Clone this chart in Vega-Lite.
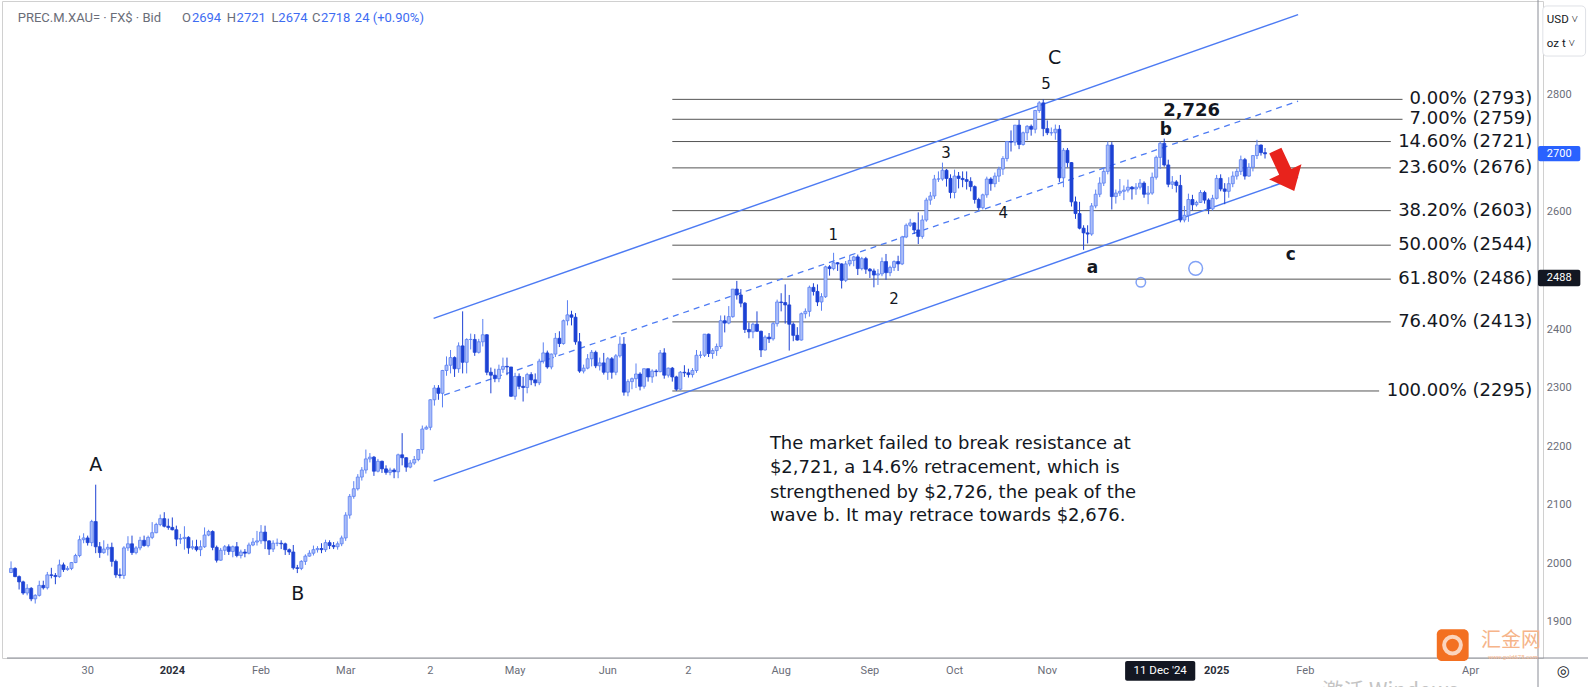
{
"$schema": "https://vega.github.io/schema/vega-lite/v6.json",
"width": 1541, "height": 657,
"autosize": {"type": "none"},
"padding": {"left": 2, "top": 1, "right": 45, "bottom": 29},
"background": "white",
"config": {"view": {"stroke": "#d0d0d0"}},
"datasets": {
"candles": [
{"d":"2023-11-03","i":-1,"o":1985,"h":2004,"l":1984,"c":1992},
{"d":"2023-11-06","i":0,"o":1992,"h":1994,"l":1977,"c":1978},
{"d":"2023-11-07","i":1,"o":1978,"h":1980,"l":1956,"c":1969},
{"d":"2023-11-08","i":2,"o":1969,"h":1971,"l":1947,"c":1950},
{"d":"2023-11-09","i":3,"o":1950,"h":1965,"l":1946,"c":1958},
{"d":"2023-11-10","i":4,"o":1958,"h":1960,"l":1936,"c":1940},
{"d":"2023-11-13","i":5,"o":1940,"h":1948,"l":1932,"c":1946},
{"d":"2023-11-14","i":6,"o":1946,"h":1971,"l":1944,"c":1963},
{"d":"2023-11-15","i":7,"o":1963,"h":1971,"l":1956,"c":1959},
{"d":"2023-11-16","i":8,"o":1959,"h":1986,"l":1956,"c":1981},
{"d":"2023-11-17","i":9,"o":1981,"h":1993,"l":1975,"c":1980},
{"d":"2023-11-20","i":10,"o":1980,"h":1984,"l":1965,"c":1978},
{"d":"2023-11-21","i":11,"o":1978,"h":2007,"l":1976,"c":1998},
{"d":"2023-11-22","i":12,"o":1998,"h":2002,"l":1986,"c":1990},
{"d":"2023-11-23","i":13,"o":1990,"h":1996,"l":1988,"c":1992},
{"d":"2023-11-24","i":14,"o":1992,"h":2003,"l":1989,"c":2002},
{"d":"2023-11-27","i":15,"o":2002,"h":2017,"l":2001,"c":2014},
{"d":"2023-11-28","i":16,"o":2014,"h":2048,"l":2011,"c":2041},
{"d":"2023-11-29","i":17,"o":2041,"h":2052,"l":2035,"c":2044},
{"d":"2023-11-30","i":18,"o":2044,"h":2048,"l":2031,"c":2036},
{"d":"2023-12-01","i":19,"o":2036,"h":2075,"l":2030,"c":2072},
{"d":"2023-12-04","i":20,"o":2072,"h":2135,"l":2018,"c":2029},
{"d":"2023-12-05","i":21,"o":2029,"h":2037,"l":2010,"c":2019},
{"d":"2023-12-06","i":22,"o":2019,"h":2040,"l":2017,"c":2025},
{"d":"2023-12-07","i":23,"o":2025,"h":2034,"l":2014,"c":2028},
{"d":"2023-12-08","i":24,"o":2028,"h":2036,"l":1995,"c":2004},
{"d":"2023-12-11","i":25,"o":2004,"h":2007,"l":1976,"c":1981},
{"d":"2023-12-12","i":26,"o":1981,"h":1992,"l":1975,"c":1980},
{"d":"2023-12-13","i":27,"o":1980,"h":2030,"l":1974,"c":2027},
{"d":"2023-12-14","i":28,"o":2027,"h":2047,"l":2022,"c":2034},
{"d":"2023-12-15","i":29,"o":2034,"h":2048,"l":2015,"c":2019},
{"d":"2023-12-18","i":30,"o":2019,"h":2030,"l":2016,"c":2027},
{"d":"2023-12-19","i":31,"o":2027,"h":2046,"l":2023,"c":2040},
{"d":"2023-12-20","i":32,"o":2040,"h":2048,"l":2029,"c":2031},
{"d":"2023-12-21","i":33,"o":2031,"h":2048,"l":2028,"c":2045},
{"d":"2023-12-22","i":34,"o":2045,"h":2071,"l":2042,"c":2053},
{"d":"2023-12-26","i":35,"o":2053,"h":2070,"l":2052,"c":2067},
{"d":"2023-12-27","i":36,"o":2067,"h":2084,"l":2064,"c":2077},
{"d":"2023-12-28","i":37,"o":2077,"h":2088,"l":2062,"c":2064},
{"d":"2023-12-29","i":38,"o":2064,"h":2077,"l":2058,"c":2062},
{"d":"2024-01-02","i":39,"o":2062,"h":2079,"l":2057,"c":2058},
{"d":"2024-01-03","i":40,"o":2058,"h":2065,"l":2030,"c":2042},
{"d":"2024-01-04","i":41,"o":2042,"h":2051,"l":2034,"c":2043},
{"d":"2024-01-05","i":42,"o":2043,"h":2064,"l":2024,"c":2045},
{"d":"2024-01-08","i":43,"o":2045,"h":2047,"l":2017,"c":2027},
{"d":"2024-01-09","i":44,"o":2027,"h":2040,"l":2024,"c":2029},
{"d":"2024-01-10","i":45,"o":2029,"h":2041,"l":2021,"c":2024},
{"d":"2024-01-11","i":46,"o":2024,"h":2040,"l":2013,"c":2029},
{"d":"2024-01-12","i":47,"o":2029,"h":2062,"l":2027,"c":2049},
{"d":"2024-01-15","i":48,"o":2049,"h":2058,"l":2047,"c":2055},
{"d":"2024-01-16","i":49,"o":2055,"h":2057,"l":2023,"c":2028},
{"d":"2024-01-17","i":50,"o":2028,"h":2031,"l":2002,"c":2006},
{"d":"2024-01-18","i":51,"o":2006,"h":2027,"l":2005,"c":2023},
{"d":"2024-01-19","i":52,"o":2023,"h":2032,"l":2015,"c":2029},
{"d":"2024-01-22","i":53,"o":2029,"h":2033,"l":2015,"c":2021},
{"d":"2024-01-23","i":54,"o":2021,"h":2031,"l":2011,"c":2029},
{"d":"2024-01-24","i":55,"o":2029,"h":2037,"l":2011,"c":2014},
{"d":"2024-01-25","i":56,"o":2014,"h":2024,"l":2009,"c":2020},
{"d":"2024-01-26","i":57,"o":2020,"h":2025,"l":2011,"c":2018},
{"d":"2024-01-29","i":58,"o":2018,"h":2036,"l":2016,"c":2032},
{"d":"2024-01-30","i":59,"o":2032,"h":2044,"l":2030,"c":2037},
{"d":"2024-01-31","i":60,"o":2037,"h":2056,"l":2031,"c":2039},
{"d":"2024-02-01","i":61,"o":2039,"h":2066,"l":2034,"c":2054},
{"d":"2024-02-02","i":62,"o":2054,"h":2065,"l":2025,"c":2039},
{"d":"2024-02-05","i":63,"o":2039,"h":2040,"l":2015,"c":2025},
{"d":"2024-02-06","i":64,"o":2025,"h":2040,"l":2020,"c":2035},
{"d":"2024-02-07","i":65,"o":2035,"h":2043,"l":2030,"c":2035},
{"d":"2024-02-08","i":66,"o":2035,"h":2040,"l":2025,"c":2034},
{"d":"2024-02-09","i":67,"o":2034,"h":2036,"l":2015,"c":2024},
{"d":"2024-02-12","i":68,"o":2024,"h":2026,"l":2015,"c":2020},
{"d":"2024-02-13","i":69,"o":2020,"h":2032,"l":1990,"c":1993},
{"d":"2024-02-14","i":70,"o":1993,"h":1998,"l":1984,"c":1992},
{"d":"2024-02-15","i":71,"o":1992,"h":2006,"l":1989,"c":2004},
{"d":"2024-02-16","i":72,"o":2004,"h":2016,"l":1998,"c":2013},
{"d":"2024-02-19","i":73,"o":2013,"h":2023,"l":2012,"c":2018},
{"d":"2024-02-20","i":74,"o":2018,"h":2031,"l":2014,"c":2024},
{"d":"2024-02-21","i":75,"o":2024,"h":2030,"l":2019,"c":2026},
{"d":"2024-02-22","i":76,"o":2026,"h":2035,"l":2018,"c":2024},
{"d":"2024-02-23","i":77,"o":2024,"h":2041,"l":2020,"c":2036},
{"d":"2024-02-26","i":78,"o":2036,"h":2040,"l":2025,"c":2031},
{"d":"2024-02-27","i":79,"o":2031,"h":2037,"l":2025,"c":2029},
{"d":"2024-02-28","i":80,"o":2029,"h":2038,"l":2024,"c":2034},
{"d":"2024-02-29","i":81,"o":2034,"h":2048,"l":2030,"c":2044},
{"d":"2024-03-01","i":82,"o":2044,"h":2088,"l":2039,"c":2083},
{"d":"2024-03-04","i":83,"o":2083,"h":2119,"l":2077,"c":2115},
{"d":"2024-03-05","i":84,"o":2115,"h":2141,"l":2111,"c":2128},
{"d":"2024-03-06","i":85,"o":2128,"h":2153,"l":2125,"c":2148},
{"d":"2024-03-07","i":86,"o":2148,"h":2165,"l":2142,"c":2160},
{"d":"2024-03-08","i":87,"o":2160,"h":2195,"l":2154,"c":2179},
{"d":"2024-03-11","i":88,"o":2179,"h":2189,"l":2173,"c":2182},
{"d":"2024-03-12","i":89,"o":2182,"h":2184,"l":2150,"c":2158},
{"d":"2024-03-13","i":90,"o":2158,"h":2179,"l":2156,"c":2175},
{"d":"2024-03-14","i":91,"o":2175,"h":2176,"l":2155,"c":2162},
{"d":"2024-03-15","i":92,"o":2162,"h":2168,"l":2152,"c":2156},
{"d":"2024-03-18","i":93,"o":2156,"h":2164,"l":2151,"c":2160},
{"d":"2024-03-19","i":94,"o":2160,"h":2163,"l":2146,"c":2157},
{"d":"2024-03-20","i":95,"o":2157,"h":2188,"l":2146,"c":2186},
{"d":"2024-03-21","i":96,"o":2186,"h":2223,"l":2168,"c":2181},
{"d":"2024-03-22","i":97,"o":2181,"h":2182,"l":2157,"c":2165},
{"d":"2024-03-25","i":98,"o":2165,"h":2177,"l":2163,"c":2172},
{"d":"2024-03-26","i":99,"o":2172,"h":2184,"l":2169,"c":2178},
{"d":"2024-03-27","i":100,"o":2178,"h":2196,"l":2175,"c":2195},
{"d":"2024-03-28","i":101,"o":2195,"h":2236,"l":2188,"c":2230},
{"d":"2024-03-29","i":102,"o":2230,"h":2236,"l":2229,"c":2233},
{"d":"2024-04-02","i":103,"o":2233,"h":2281,"l":2228,"c":2280},
{"d":"2024-04-03","i":104,"o":2280,"h":2305,"l":2270,"c":2300},
{"d":"2024-04-04","i":105,"o":2300,"h":2305,"l":2280,"c":2291},
{"d":"2024-04-05","i":106,"o":2291,"h":2331,"l":2267,"c":2330},
{"d":"2024-04-08","i":107,"o":2330,"h":2354,"l":2321,"c":2339},
{"d":"2024-04-09","i":108,"o":2339,"h":2365,"l":2325,"c":2352},
{"d":"2024-04-10","i":109,"o":2352,"h":2354,"l":2319,"c":2333},
{"d":"2024-04-11","i":110,"o":2333,"h":2378,"l":2326,"c":2372},
{"d":"2024-04-12","i":111,"o":2372,"h":2431,"l":2325,"c":2344},
{"d":"2024-04-15","i":112,"o":2344,"h":2385,"l":2325,"c":2383},
{"d":"2024-04-16","i":113,"o":2383,"h":2393,"l":2366,"c":2383},
{"d":"2024-04-17","i":114,"o":2383,"h":2392,"l":2355,"c":2361},
{"d":"2024-04-18","i":115,"o":2361,"h":2384,"l":2359,"c":2379},
{"d":"2024-04-19","i":116,"o":2379,"h":2418,"l":2371,"c":2391},
{"d":"2024-04-22","i":117,"o":2391,"h":2392,"l":2322,"c":2327},
{"d":"2024-04-23","i":118,"o":2327,"h":2335,"l":2291,"c":2322},
{"d":"2024-04-24","i":119,"o":2322,"h":2333,"l":2310,"c":2316},
{"d":"2024-04-25","i":120,"o":2316,"h":2340,"l":2310,"c":2332},
{"d":"2024-04-26","i":121,"o":2332,"h":2352,"l":2326,"c":2337},
{"d":"2024-04-29","i":122,"o":2337,"h":2352,"l":2322,"c":2336},
{"d":"2024-04-30","i":123,"o":2336,"h":2336,"l":2285,"c":2286},
{"d":"2024-05-01","i":124,"o":2286,"h":2326,"l":2280,"c":2320},
{"d":"2024-05-02","i":125,"o":2320,"h":2325,"l":2298,"c":2303},
{"d":"2024-05-03","i":126,"o":2303,"h":2319,"l":2277,"c":2301},
{"d":"2024-05-06","i":127,"o":2301,"h":2326,"l":2291,"c":2323},
{"d":"2024-05-07","i":128,"o":2323,"h":2327,"l":2305,"c":2314},
{"d":"2024-05-08","i":129,"o":2314,"h":2325,"l":2303,"c":2309},
{"d":"2024-05-09","i":130,"o":2309,"h":2350,"l":2305,"c":2346},
{"d":"2024-05-10","i":131,"o":2346,"h":2378,"l":2342,"c":2360},
{"d":"2024-05-13","i":132,"o":2360,"h":2364,"l":2333,"c":2336},
{"d":"2024-05-14","i":133,"o":2336,"h":2359,"l":2332,"c":2358},
{"d":"2024-05-15","i":134,"o":2358,"h":2394,"l":2353,"c":2385},
{"d":"2024-05-16","i":135,"o":2385,"h":2397,"l":2370,"c":2376},
{"d":"2024-05-17","i":136,"o":2376,"h":2417,"l":2374,"c":2415},
{"d":"2024-05-20","i":137,"o":2415,"h":2450,"l":2407,"c":2425},
{"d":"2024-05-21","i":138,"o":2425,"h":2432,"l":2407,"c":2421},
{"d":"2024-05-22","i":139,"o":2421,"h":2428,"l":2374,"c":2379},
{"d":"2024-05-23","i":140,"o":2379,"h":2394,"l":2326,"c":2329},
{"d":"2024-05-24","i":141,"o":2329,"h":2340,"l":2325,"c":2334},
{"d":"2024-05-27","i":142,"o":2334,"h":2358,"l":2332,"c":2350},
{"d":"2024-05-28","i":143,"o":2350,"h":2365,"l":2337,"c":2361},
{"d":"2024-05-29","i":144,"o":2361,"h":2364,"l":2334,"c":2338},
{"d":"2024-05-30","i":145,"o":2338,"h":2352,"l":2330,"c":2343},
{"d":"2024-05-31","i":146,"o":2343,"h":2360,"l":2323,"c":2327},
{"d":"2024-06-03","i":147,"o":2327,"h":2353,"l":2314,"c":2350},
{"d":"2024-06-04","i":148,"o":2350,"h":2353,"l":2316,"c":2327},
{"d":"2024-06-05","i":149,"o":2327,"h":2358,"l":2322,"c":2355},
{"d":"2024-06-06","i":150,"o":2355,"h":2388,"l":2352,"c":2375},
{"d":"2024-06-07","i":151,"o":2375,"h":2387,"l":2287,"c":2293},
{"d":"2024-06-10","i":152,"o":2293,"h":2315,"l":2286,"c":2311},
{"d":"2024-06-11","i":153,"o":2311,"h":2318,"l":2298,"c":2316},
{"d":"2024-06-12","i":154,"o":2316,"h":2342,"l":2300,"c":2324},
{"d":"2024-06-13","i":155,"o":2324,"h":2327,"l":2296,"c":2303},
{"d":"2024-06-14","i":156,"o":2303,"h":2333,"l":2299,"c":2333},
{"d":"2024-06-17","i":157,"o":2333,"h":2333,"l":2311,"c":2319},
{"d":"2024-06-18","i":158,"o":2319,"h":2332,"l":2309,"c":2329},
{"d":"2024-06-19","i":159,"o":2329,"h":2332,"l":2320,"c":2328},
{"d":"2024-06-20","i":160,"o":2328,"h":2365,"l":2327,"c":2360},
{"d":"2024-06-21","i":161,"o":2360,"h":2368,"l":2316,"c":2322},
{"d":"2024-06-24","i":162,"o":2322,"h":2335,"l":2318,"c":2334},
{"d":"2024-06-25","i":163,"o":2334,"h":2336,"l":2311,"c":2319},
{"d":"2024-06-26","i":164,"o":2319,"h":2321,"l":2295,"c":2298},
{"d":"2024-06-27","i":165,"o":2298,"h":2329,"l":2296,"c":2327},
{"d":"2024-06-28","i":166,"o":2327,"h":2339,"l":2319,"c":2326},
{"d":"2024-07-01","i":167,"o":2326,"h":2333,"l":2318,"c":2323},
{"d":"2024-07-02","i":168,"o":2323,"h":2334,"l":2318,"c":2330},
{"d":"2024-07-03","i":169,"o":2330,"h":2365,"l":2326,"c":2356},
{"d":"2024-07-04","i":170,"o":2356,"h":2363,"l":2351,"c":2356},
{"d":"2024-07-05","i":171,"o":2356,"h":2392,"l":2353,"c":2392},
{"d":"2024-07-08","i":172,"o":2392,"h":2393,"l":2353,"c":2359},
{"d":"2024-07-09","i":173,"o":2359,"h":2368,"l":2350,"c":2364},
{"d":"2024-07-10","i":174,"o":2364,"h":2376,"l":2355,"c":2371},
{"d":"2024-07-11","i":175,"o":2371,"h":2424,"l":2367,"c":2415},
{"d":"2024-07-12","i":176,"o":2415,"h":2424,"l":2395,"c":2411},
{"d":"2024-07-15","i":177,"o":2411,"h":2440,"l":2409,"c":2422},
{"d":"2024-07-16","i":178,"o":2422,"h":2469,"l":2420,"c":2469},
{"d":"2024-07-17","i":179,"o":2469,"h":2483,"l":2451,"c":2459},
{"d":"2024-07-18","i":180,"o":2459,"h":2469,"l":2438,"c":2445},
{"d":"2024-07-19","i":181,"o":2445,"h":2447,"l":2394,"c":2400},
{"d":"2024-07-22","i":182,"o":2400,"h":2412,"l":2385,"c":2396},
{"d":"2024-07-23","i":183,"o":2396,"h":2412,"l":2385,"c":2409},
{"d":"2024-07-24","i":184,"o":2409,"h":2431,"l":2396,"c":2397},
{"d":"2024-07-25","i":185,"o":2397,"h":2398,"l":2353,"c":2365},
{"d":"2024-07-26","i":186,"o":2365,"h":2390,"l":2364,"c":2387},
{"d":"2024-07-29","i":187,"o":2387,"h":2394,"l":2377,"c":2384},
{"d":"2024-07-30","i":188,"o":2384,"h":2413,"l":2381,"c":2410},
{"d":"2024-07-31","i":189,"o":2410,"h":2451,"l":2405,"c":2447},
{"d":"2024-08-01","i":190,"o":2447,"h":2462,"l":2431,"c":2446},
{"d":"2024-08-02","i":191,"o":2446,"h":2477,"l":2410,"c":2442},
{"d":"2024-08-05","i":192,"o":2442,"h":2459,"l":2364,"c":2409},
{"d":"2024-08-06","i":193,"o":2409,"h":2412,"l":2380,"c":2390},
{"d":"2024-08-07","i":194,"o":2390,"h":2404,"l":2381,"c":2382},
{"d":"2024-08-08","i":195,"o":2382,"h":2429,"l":2381,"c":2427},
{"d":"2024-08-09","i":196,"o":2427,"h":2436,"l":2419,"c":2431},
{"d":"2024-08-12","i":197,"o":2431,"h":2475,"l":2422,"c":2472},
{"d":"2024-08-13","i":198,"o":2472,"h":2479,"l":2458,"c":2465},
{"d":"2024-08-14","i":199,"o":2465,"h":2477,"l":2440,"c":2447},
{"d":"2024-08-15","i":200,"o":2447,"h":2462,"l":2432,"c":2456},
{"d":"2024-08-16","i":201,"o":2456,"h":2509,"l":2454,"c":2507},
{"d":"2024-08-19","i":202,"o":2507,"h":2510,"l":2492,"c":2504},
{"d":"2024-08-20","i":203,"o":2504,"h":2531,"l":2501,"c":2514},
{"d":"2024-08-21","i":204,"o":2514,"h":2515,"l":2500,"c":2512},
{"d":"2024-08-22","i":205,"o":2512,"h":2513,"l":2470,"c":2484},
{"d":"2024-08-23","i":206,"o":2484,"h":2517,"l":2481,"c":2512},
{"d":"2024-08-26","i":207,"o":2512,"h":2527,"l":2508,"c":2518},
{"d":"2024-08-27","i":208,"o":2518,"h":2526,"l":2508,"c":2524},
{"d":"2024-08-28","i":209,"o":2524,"h":2528,"l":2493,"c":2504},
{"d":"2024-08-29","i":210,"o":2504,"h":2524,"l":2501,"c":2521},
{"d":"2024-08-30","i":211,"o":2521,"h":2524,"l":2495,"c":2503},
{"d":"2024-09-02","i":212,"o":2503,"h":2505,"l":2488,"c":2500},
{"d":"2024-09-03","i":213,"o":2500,"h":2504,"l":2472,"c":2493},
{"d":"2024-09-04","i":214,"o":2493,"h":2503,"l":2476,"c":2495},
{"d":"2024-09-05","i":215,"o":2495,"h":2523,"l":2491,"c":2516},
{"d":"2024-09-06","i":216,"o":2516,"h":2529,"l":2485,"c":2497},
{"d":"2024-09-09","i":217,"o":2497,"h":2509,"l":2491,"c":2506},
{"d":"2024-09-10","i":218,"o":2506,"h":2518,"l":2500,"c":2516},
{"d":"2024-09-11","i":219,"o":2516,"h":2526,"l":2500,"c":2512},
{"d":"2024-09-12","i":220,"o":2512,"h":2560,"l":2510,"c":2558},
{"d":"2024-09-13","i":221,"o":2558,"h":2581,"l":2556,"c":2578},
{"d":"2024-09-16","i":222,"o":2578,"h":2589,"l":2575,"c":2582},
{"d":"2024-09-17","i":223,"o":2582,"h":2583,"l":2563,"c":2570},
{"d":"2024-09-18","i":224,"o":2570,"h":2600,"l":2546,"c":2559},
{"d":"2024-09-19","i":225,"o":2559,"h":2595,"l":2555,"c":2587},
{"d":"2024-09-20","i":226,"o":2587,"h":2625,"l":2584,"c":2621},
{"d":"2024-09-23","i":227,"o":2621,"h":2635,"l":2613,"c":2628},
{"d":"2024-09-24","i":228,"o":2628,"h":2664,"l":2623,"c":2657},
{"d":"2024-09-25","i":229,"o":2657,"h":2670,"l":2652,"c":2657},
{"d":"2024-09-26","i":230,"o":2657,"h":2685,"l":2654,"c":2672},
{"d":"2024-09-27","i":231,"o":2672,"h":2674,"l":2644,"c":2658},
{"d":"2024-09-30","i":232,"o":2658,"h":2665,"l":2624,"c":2634},
{"d":"2024-10-01","i":233,"o":2634,"h":2673,"l":2624,"c":2662},
{"d":"2024-10-02","i":234,"o":2662,"h":2669,"l":2641,"c":2658},
{"d":"2024-10-03","i":235,"o":2658,"h":2670,"l":2643,"c":2656},
{"d":"2024-10-04","i":236,"o":2656,"h":2670,"l":2639,"c":2653},
{"d":"2024-10-07","i":237,"o":2653,"h":2660,"l":2636,"c":2644},
{"d":"2024-10-08","i":238,"o":2644,"h":2646,"l":2615,"c":2622},
{"d":"2024-10-09","i":239,"o":2622,"h":2625,"l":2604,"c":2608},
{"d":"2024-10-10","i":240,"o":2608,"h":2632,"l":2605,"c":2630},
{"d":"2024-10-11","i":241,"o":2630,"h":2661,"l":2625,"c":2657},
{"d":"2024-10-14","i":242,"o":2657,"h":2660,"l":2637,"c":2649},
{"d":"2024-10-15","i":243,"o":2649,"h":2668,"l":2643,"c":2662},
{"d":"2024-10-16","i":244,"o":2662,"h":2678,"l":2652,"c":2674},
{"d":"2024-10-17","i":245,"o":2674,"h":2696,"l":2664,"c":2692},
{"d":"2024-10-18","i":246,"o":2692,"h":2722,"l":2687,"c":2721},
{"d":"2024-10-21","i":247,"o":2721,"h":2740,"l":2704,"c":2720},
{"d":"2024-10-22","i":248,"o":2720,"h":2749,"l":2714,"c":2749},
{"d":"2024-10-23","i":249,"o":2749,"h":2758,"l":2708,"c":2716},
{"d":"2024-10-24","i":250,"o":2716,"h":2738,"l":2714,"c":2736},
{"d":"2024-10-25","i":251,"o":2736,"h":2749,"l":2723,"c":2747},
{"d":"2024-10-28","i":252,"o":2747,"h":2750,"l":2731,"c":2742},
{"d":"2024-10-29","i":253,"o":2742,"h":2775,"l":2735,"c":2774},
{"d":"2024-10-30","i":254,"o":2774,"h":2790,"l":2770,"c":2787},
{"d":"2024-10-31","i":255,"o":2787,"h":2793,"l":2730,"c":2743},
{"d":"2024-11-01","i":256,"o":2743,"h":2757,"l":2732,"c":2736},
{"d":"2024-11-04","i":257,"o":2736,"h":2745,"l":2731,"c":2736},
{"d":"2024-11-05","i":258,"o":2736,"h":2750,"l":2724,"c":2742},
{"d":"2024-11-06","i":259,"o":2742,"h":2749,"l":2652,"c":2659},
{"d":"2024-11-07","i":260,"o":2659,"h":2710,"l":2643,"c":2706},
{"d":"2024-11-08","i":261,"o":2706,"h":2710,"l":2677,"c":2685},
{"d":"2024-11-11","i":262,"o":2685,"h":2686,"l":2610,"c":2618},
{"d":"2024-11-12","i":263,"o":2618,"h":2627,"l":2589,"c":2598},
{"d":"2024-11-13","i":264,"o":2598,"h":2618,"l":2571,"c":2573},
{"d":"2024-11-14","i":265,"o":2573,"h":2578,"l":2536,"c":2565},
{"d":"2024-11-15","i":266,"o":2565,"h":2578,"l":2547,"c":2563},
{"d":"2024-11-18","i":267,"o":2563,"h":2616,"l":2560,"c":2611},
{"d":"2024-11-19","i":268,"o":2611,"h":2639,"l":2607,"c":2631},
{"d":"2024-11-20","i":269,"o":2631,"h":2660,"l":2626,"c":2650},
{"d":"2024-11-21","i":270,"o":2650,"h":2674,"l":2645,"c":2670},
{"d":"2024-11-22","i":271,"o":2670,"h":2721,"l":2665,"c":2715},
{"d":"2024-11-25","i":272,"o":2715,"h":2720,"l":2605,"c":2627},
{"d":"2024-11-26","i":273,"o":2627,"h":2639,"l":2615,"c":2633},
{"d":"2024-11-27","i":274,"o":2633,"h":2657,"l":2628,"c":2636},
{"d":"2024-11-28","i":275,"o":2636,"h":2646,"l":2621,"c":2638},
{"d":"2024-11-29","i":276,"o":2638,"h":2656,"l":2634,"c":2643},
{"d":"2024-12-02","i":277,"o":2643,"h":2645,"l":2622,"c":2640},
{"d":"2024-12-03","i":278,"o":2640,"h":2650,"l":2630,"c":2643},
{"d":"2024-12-04","i":279,"o":2643,"h":2657,"l":2639,"c":2650},
{"d":"2024-12-05","i":280,"o":2650,"h":2653,"l":2625,"c":2631},
{"d":"2024-12-06","i":281,"o":2631,"h":2645,"l":2614,"c":2633},
{"d":"2024-12-09","i":282,"o":2633,"h":2668,"l":2630,"c":2660},
{"d":"2024-12-10","i":283,"o":2660,"h":2697,"l":2656,"c":2694},
{"d":"2024-12-11","i":284,"o":2694,"h":2721,"l":2674,"c":2718},
{"d":"2024-12-12","i":285,"o":2718,"h":2726,"l":2678,"c":2681},
{"d":"2024-12-13","i":286,"o":2681,"h":2690,"l":2643,"c":2648},
{"d":"2024-12-16","i":287,"o":2648,"h":2662,"l":2640,"c":2652},
{"d":"2024-12-17","i":288,"o":2652,"h":2655,"l":2634,"c":2646},
{"d":"2024-12-18","i":289,"o":2646,"h":2664,"l":2583,"c":2587},
{"d":"2024-12-19","i":290,"o":2587,"h":2611,"l":2583,"c":2595},
{"d":"2024-12-20","i":291,"o":2595,"h":2632,"l":2584,"c":2622},
{"d":"2024-12-23","i":292,"o":2622,"h":2630,"l":2603,"c":2613},
{"d":"2024-12-24","i":293,"o":2613,"h":2620,"l":2610,"c":2617},
{"d":"2024-12-26","i":294,"o":2617,"h":2638,"l":2616,"c":2634},
{"d":"2024-12-27","i":295,"o":2634,"h":2637,"l":2615,"c":2621},
{"d":"2024-12-30","i":296,"o":2621,"h":2624,"l":2597,"c":2606},
{"d":"2024-12-31","i":297,"o":2606,"h":2630,"l":2603,"c":2624},
{"d":"2025-01-02","i":298,"o":2624,"h":2664,"l":2622,"c":2658},
{"d":"2025-01-03","i":299,"o":2658,"h":2665,"l":2636,"c":2640},
{"d":"2025-01-06","i":300,"o":2640,"h":2650,"l":2614,"c":2636},
{"d":"2025-01-07","i":301,"o":2636,"h":2660,"l":2625,"c":2649},
{"d":"2025-01-08","i":302,"o":2649,"h":2670,"l":2643,"c":2662},
{"d":"2025-01-09","i":303,"o":2662,"h":2675,"l":2656,"c":2670},
{"d":"2025-01-10","i":304,"o":2670,"h":2697,"l":2664,"c":2690},
{"d":"2025-01-13","i":305,"o":2690,"h":2693,"l":2656,"c":2662},
{"d":"2025-01-14","i":306,"o":2662,"h":2684,"l":2661,"c":2677},
{"d":"2025-01-15","i":307,"o":2677,"h":2698,"l":2670,"c":2697},
{"d":"2025-01-16","i":308,"o":2697,"h":2724,"l":2691,"c":2715},
{"d":"2025-01-17","i":309,"o":2715,"h":2716,"l":2697,"c":2702},
{"d":"2025-01-20","i":310,"o":2702,"h":2710,"l":2692,"c":2700}
],
"fib": [
{"t":"0.00% (2793)","p":2793,"s":163,"e":344.1},
{"t":"7.00% (2759)","p":2759,"s":163,"e":344.1},
{"t":"14.60% (2721)","p":2721,"s":163,"e":341.2},
{"t":"23.60% (2676)","p":2676,"s":163,"e":341.2},
{"t":"38.20% (2603)","p":2603,"s":163,"e":341.2},
{"t":"50.00% (2544)","p":2544,"s":163,"e":341.2},
{"t":"61.80% (2486)","p":2486,"s":163,"e":341.2},
{"t":"76.40% (2413)","p":2413,"s":163,"e":341.2},
{"t":"100.00% (2295)","p":2295,"s":163,"e":338.3}
],
"channel": [
{"n":"upper","x1":103.8,"y1":2419,"x2":318.2,"y2":2937.7},
{"n":"lower","x1":103.8,"y1":2141,"x2":318.2,"y2":2660}
],
"mid": [
{"n":"middle","x1":106.4,"y1":2288,"x2":318.2,"y2":2790}
],
"bigl": [
{"t":"A","x":20,"y":2169},
{"t":"B","x":70.1,"y":1949},
{"t":"C","x":257.8,"y":2864}
],
"nums": [
{"t":"1","x":202.9,"y":2561},
{"t":"2","x":218,"y":2451.6},
{"t":"3","x":230.9,"y":2701},
{"t":"4","x":245.1,"y":2599.5},
{"t":"5","x":255.7,"y":2819}
],
"smalll": [
{"t":"a","x":267.2,"y":2504.5},
{"t":"b","x":285.4,"y":2740.7},
{"t":"c","x":316.4,"y":2528}
],
"note": [
{"t":"The market failed to break resistance at","y":2204.8},
{"t":"$2,721, a 14.6% retracement, which is","y":2163.3},
{"t":"strengthened by $2,726, the peak of the","y":2121.6},
{"t":"wave b. It may retrace towards $2,676.","y":2081.8}
],
"header": [
{"t":"PREC.M.XAU= · FX$ · Bid","x":0.67,"k":"n"},
{"t":"O","x":41.4,"k":"n"},
{"t":"2694","x":43.86,"k":"v"},
{"t":"H","x":52.48,"k":"n"},
{"t":"2721","x":54.94,"k":"v"},
{"t":"L","x":63.57,"k":"n"},
{"t":"2674","x":65.3,"k":"v"},
{"t":"C","x":73.67,"k":"n"},
{"t":"2718","x":75.9,"k":"v"},
{"t":"24 (+0.90%)","x":84.27,"k":"v"}
],
"circles": [
{"x":279.2,"y":2480.6,"r":"small"},
{"x":292.8,"y":2504.5,"r":"large"}
],
"yticks": [
{"v":1900},{"v":2000},{"v":2100},{"v":2200},{"v":2300},{"v":2400},{"v":2600},{"v":2800}
],
"xticks": [
{"v":18,"t":"30"},{"v":61,"t":"Feb"},{"v":82,"t":"Mar"},{"v":103,"t":"2"},{"v":124,"t":"May"},{"v":147,"t":"Jun"},{"v":167,"t":"2"},{"v":190,"t":"Aug"},{"v":212,"t":"Sep"},{"v":233,"t":"Oct"},{"v":256,"t":"Nov"},{"v":320,"t":"Feb"},{"v":361,"t":"Apr"}
],
"xyears": [
{"v":39,"t":"2024"},{"v":298,"t":"2025"}
]
},
"layer": [
{
"data": {"name": "fib"},
"mark": {"type": "rule", "color": "#555555", "strokeWidth": 1},
"encoding": {
"x": {"field": "s", "type": "quantitative", "scale": {"domain": [-2, 377.7], "nice": false, "zero": false}, "axis": null},
"x2": {"field": "e"},
"y": {"field": "p", "type": "quantitative", "scale": {"domain": [1839, 2961], "nice": false, "zero": false}, "axis": null}
}
},
{
"data": {"values": [{}]},
"mark": {"type": "rule", "color": "#8a8d96", "strokeWidth": 1},
"encoding": {
"x": {"datum": -2, "type": "quantitative", "axis": null},
"x2": {"datum": 391},
"y": {"datum": 1839, "type": "quantitative", "axis": null}
}
},
{
"data": {"values": [{}]},
"mark": {"type": "rule", "color": "#8a8d96", "strokeWidth": 1},
"encoding": {
"x": {"datum": 377.7, "type": "quantitative", "axis": null},
"y": {"datum": 1780, "type": "quantitative", "axis": null},
"y2": {"datum": 2963}
}
},
{
"data": {"name": "yticks"},
"mark": {"type": "text", "align": "left", "baseline": "middle", "font": "Roboto", "fontSize": 11, "color": "#6a6d78"},
"encoding": {
"x": {"datum": 379.9, "type": "quantitative", "axis": null},
"y": {"field": "v", "type": "quantitative", "axis": null},
"text": {"field": "v"}
}
},
{
"data": {"name": "xticks"},
"mark": {"type": "text", "align": "center", "baseline": "middle", "font": "Roboto", "fontSize": 11, "color": "#6a6d78"},
"encoding": {
"x": {"field": "v", "type": "quantitative", "axis": null},
"y": {"datum": 1816.7, "type": "quantitative", "axis": null},
"text": {"field": "t"}
}
},
{
"data": {"name": "xyears"},
"mark": {"type": "text", "align": "center", "baseline": "middle", "font": "Roboto", "fontSize": 11, "fontWeight": "bold", "color": "#2a2e39"},
"encoding": {
"x": {"field": "v", "type": "quantitative", "axis": null},
"y": {"datum": 1816.7, "type": "quantitative", "axis": null},
"text": {"field": "t"}
}
},
{
"data": {"name": "fib"},
"mark": {"type": "text", "align": "right", "baseline": "middle", "font": "DejaVu Sans", "fontSize": 18, "color": "#131722"},
"encoding": {
"x": {"datum": 376.3, "type": "quantitative", "axis": null},
"y": {"field": "p", "type": "quantitative", "axis": null},
"text": {"field": "t"}
}
},
{
"data": {"name": "channel"},
"mark": {"type": "rule", "color": "#4d7bf3", "strokeWidth": 1.5},
"encoding": {
"x": {"field": "x1", "type": "quantitative", "axis": null},
"y": {"field": "y1", "type": "quantitative", "axis": null},
"x2": {"field": "x2"}, "y2": {"field": "y2"}
}
},
{
"data": {"name": "mid"},
"mark": {"type": "rule", "color": "#4d7bf3", "strokeWidth": 1.3, "strokeDash": [6, 5]},
"encoding": {
"x": {"field": "x1", "type": "quantitative", "axis": null},
"y": {"field": "y1", "type": "quantitative", "axis": null},
"x2": {"field": "x2"}, "y2": {"field": "y2"}
}
},
{
"data": {"name": "candles"},
"mark": {"type": "rule", "strokeWidth": 1},
"encoding": {
"x": {"field": "i", "type": "quantitative", "axis": null},
"y": {"field": "l", "type": "quantitative", "axis": null},
"y2": {"field": "h"},
"stroke": {"condition": {"test": "datum.c >= datum.o", "value": "#5a80f2"}, "value": "#1d42d4"}
}
},
{
"data": {"name": "candles"},
"mark": {"type": "bar", "size": 3, "strokeWidth": 0.8},
"encoding": {
"x": {"field": "i", "type": "quantitative", "axis": null},
"y": {"field": "o", "type": "quantitative", "axis": null, "scale": {"zero": false}},
"y2": {"field": "c"},
"fill": {"condition": {"test": "datum.c >= datum.o", "value": "#aabdf8"}, "value": "#1d42d4"},
"stroke": {"condition": {"test": "datum.c >= datum.o", "value": "#5a80f2"}, "value": "#1d42d4"}
}
},
{
"data": {"name": "circles"},
"mark": {"type": "point", "shape": "circle", "filled": false, "stroke": "#4d7bf3", "strokeWidth": 1.5},
"encoding": {
"x": {"field": "x", "type": "quantitative", "axis": null},
"y": {"field": "y", "type": "quantitative", "axis": null},
"size": {"field": "r", "type": "nominal", "scale": {"domain": ["small", "large"], "range": [90, 190]}, "legend": null}
}
},
{
"data": {"values": [{"x": 314.9, "y": 2671}]},
"mark": {"type": "point", "shape": "M-0.3,-1L0.3,-1L0.3,0.05L0.8,0.05L0,1L-0.8,0.05L-0.3,0.05Z", "filled": true, "fill": "#e8231c", "opacity": 1, "size": 2000, "angle": -25, "strokeWidth": 0},
"encoding": {
"x": {"field": "x", "type": "quantitative", "axis": null},
"y": {"field": "y", "type": "quantitative", "axis": null}
}
},
{
"data": {"name": "bigl"},
"mark": {"type": "text", "align": "center", "baseline": "middle", "font": "DejaVu Sans", "fontSize": 19, "color": "#131722"},
"encoding": {
"x": {"field": "x", "type": "quantitative", "axis": null},
"y": {"field": "y", "type": "quantitative", "axis": null},
"text": {"field": "t"}
}
},
{
"data": {"name": "nums"},
"mark": {"type": "text", "align": "center", "baseline": "middle", "font": "DejaVu Sans", "fontSize": 15, "color": "#131722"},
"encoding": {
"x": {"field": "x", "type": "quantitative", "axis": null},
"y": {"field": "y", "type": "quantitative", "axis": null},
"text": {"field": "t"}
}
},
{
"data": {"name": "smalll"},
"mark": {"type": "text", "align": "center", "baseline": "middle", "font": "DejaVu Sans", "fontSize": 17, "fontWeight": "bold", "color": "#131722"},
"encoding": {
"x": {"field": "x", "type": "quantitative", "axis": null},
"y": {"field": "y", "type": "quantitative", "axis": null},
"text": {"field": "t"}
}
},
{
"data": {"values": [{"t": "2,726", "x": 291.8, "y": 2773.7}]},
"mark": {"type": "text", "align": "center", "baseline": "middle", "font": "DejaVu Sans", "fontSize": 18, "fontWeight": "bold", "color": "#131722"},
"encoding": {
"x": {"field": "x", "type": "quantitative", "axis": null},
"y": {"field": "y", "type": "quantitative", "axis": null},
"text": {"field": "t"}
}
},
{
"data": {"name": "note"},
"mark": {"type": "text", "align": "left", "baseline": "middle", "font": "DejaVu Sans", "fontSize": 18, "color": "#131722"},
"encoding": {
"x": {"datum": 187.2, "type": "quantitative", "axis": null},
"y": {"field": "y", "type": "quantitative", "axis": null},
"text": {"field": "t"}
}
},
{
"data": {"name": "header"},
"mark": {"type": "text", "align": "left", "baseline": "middle", "font": "Roboto", "fontSize": 13},
"encoding": {
"x": {"field": "x", "type": "quantitative", "axis": null},
"y": {"datum": 2931.7, "type": "quantitative", "axis": null},
"text": {"field": "t"},
"color": {"field": "k", "type": "nominal", "scale": {"domain": ["n", "v"], "range": ["#6a6d78", "#3d6cf2"]}, "legend": null}
}
},
{
"data": {"values": [{}]},
"mark": {"type": "rect", "fill": "white", "stroke": "#dfe1e6", "strokeWidth": 1, "cornerRadius": 4},
"encoding": {
"x": {"datum": 378.9, "type": "quantitative", "axis": null},
"x2": {"datum": 389.5},
"y": {"datum": 2952.5, "type": "quantitative", "axis": null},
"y2": {"datum": 2867}
}
},
{
"data": {"values": [{"t": "USD ˅", "y": 2929.1}, {"t": "oz t  ˅", "y": 2887.8}]},
"mark": {"type": "text", "align": "left", "baseline": "middle", "font": "Roboto", "fontSize": 11.5, "color": "#131722"},
"encoding": {
"x": {"datum": 379.9, "type": "quantitative", "axis": null},
"y": {"field": "y", "type": "quantitative", "axis": null},
"text": {"field": "t"}
}
},
{
"data": {"values": [{"p": 2700}]},
"mark": {"type": "rect", "fill": "#2962ff", "cornerRadius": 2},
"encoding": {
"x": {"datum": 377.7, "type": "quantitative", "axis": null},
"x2": {"datum": 388.2},
"y": {"datum": 2687.5, "type": "quantitative", "axis": null},
"y2": {"datum": 2713.5}
}
},
{
"data": {"values": [{"p": 2488}]},
"mark": {"type": "rect", "fill": "#131722", "cornerRadius": 2},
"encoding": {
"x": {"datum": 377.7, "type": "quantitative", "axis": null},
"x2": {"datum": 388.2},
"y": {"datum": 2474, "type": "quantitative", "axis": null},
"y2": {"datum": 2502}
}
},
{
"data": {"values": [{"t": "2700", "y": 2700.5}, {"t": "2488", "y": 2488}]},
"mark": {"type": "text", "align": "left", "baseline": "middle", "font": "Roboto", "fontSize": 11, "color": "white"},
"encoding": {
"x": {"datum": 379.9, "type": "quantitative", "axis": null},
"y": {"field": "y", "type": "quantitative", "axis": null},
"text": {"field": "t"}
}
},
{
"data": {"values": [{}]},
"mark": {"type": "rect", "fill": "#131722", "cornerRadius": 2},
"encoding": {
"x": {"datum": 275.3, "type": "quantitative", "axis": null},
"x2": {"datum": 292.7},
"y": {"datum": 1834, "type": "quantitative", "axis": null},
"y2": {"datum": 1800}
}
},
{
"data": {"values": [{"t": "11 Dec '24"}]},
"mark": {"type": "text", "align": "center", "baseline": "middle", "font": "Roboto", "fontSize": 11.5, "color": "white"},
"encoding": {
"x": {"datum": 284, "type": "quantitative", "axis": null},
"y": {"datum": 1817, "type": "quantitative", "axis": null},
"text": {"field": "t"}
}
},
{
"data": {"values": [{}]},
"mark": {"type": "rect", "fill": "#f37021", "cornerRadius": 5},
"encoding": {
"x": {"datum": 352.6, "type": "quantitative", "axis": null},
"x2": {"datum": 360.5},
"y": {"datum": 1888, "type": "quantitative", "axis": null},
"y2": {"datum": 1834}
}
},
{
"data": {"values": [{"x": 356.5, "y": 1861}]},
"mark": {"type": "point", "shape": "circle", "filled": false, "stroke": "white", "strokeWidth": 4, "size": 280},
"encoding": {
"x": {"field": "x", "type": "quantitative", "axis": null},
"y": {"field": "y", "type": "quantitative", "axis": null}
}
},
{
"data": {"values": [{"t": "汇金网", "y": 1868}]},
"mark": {"type": "text", "align": "center", "baseline": "middle", "font": "Noto Sans CJK SC", "fontSize": 20, "color": "#f6b489"},
"encoding": {
"x": {"datum": 371, "type": "quantitative", "axis": null},
"y": {"field": "y", "type": "quantitative", "axis": null},
"text": {"field": "t"}
}
},
{
"data": {"values": [{"t": "www.gold678.com", "y": 1841}]},
"mark": {"type": "text", "align": "center", "baseline": "middle", "font": "Roboto", "fontSize": 6, "color": "#f6b489"},
"encoding": {
"x": {"datum": 371.5, "type": "quantitative", "axis": null},
"y": {"field": "y", "type": "quantitative", "axis": null},
"text": {"field": "t"}
}
},
{
"data": {"values": [{"t": "◎", "y": 1816.7}]},
"mark": {"type": "text", "align": "center", "baseline": "middle", "font": "DejaVu Sans", "fontSize": 15, "color": "#131722"},
"encoding": {
"x": {"datum": 384, "type": "quantitative", "axis": null},
"y": {"field": "y", "type": "quantitative", "axis": null},
"text": {"field": "t"}
}
},
{
"data": {"values": [{"t": "激活 Windows", "y": 1781}]},
"mark": {"type": "text", "align": "left", "baseline": "middle", "font": "Noto Sans CJK SC", "fontSize": 21, "color": "#c4c4c4"},
"encoding": {
"x": {"datum": 324.2, "type": "quantitative", "axis": null},
"y": {"field": "y", "type": "quantitative", "axis": null},
"text": {"field": "t"}
}
}
]
}
